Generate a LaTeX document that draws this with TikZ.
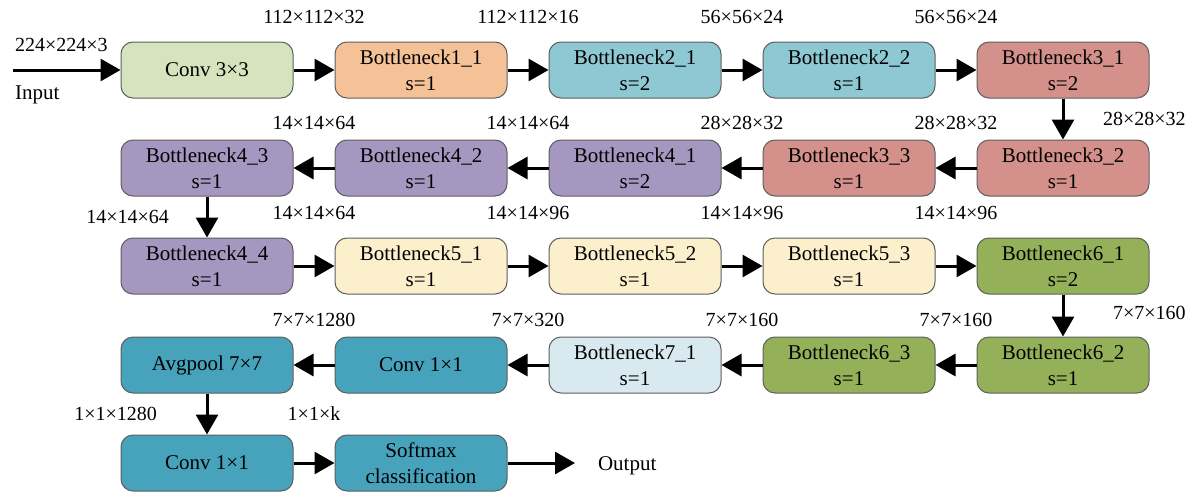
\documentclass[tikz,border=0pt]{standalone}
\usepackage{fontspec}
\setmainfont{Liberation Serif}
\usetikzlibrary{positioning,arrows.meta}
\definecolor{bordergray}{HTML}{5E5E5E}
\definecolor{convgreen}{HTML}{D6E4BD}
\definecolor{bnorange}{HTML}{F5C196}
\definecolor{bnblue}{HTML}{8DC8D3}
\definecolor{bnred}{HTML}{D4908B}
\definecolor{bnpurple}{HTML}{A597BF}
\definecolor{bncream}{HTML}{FCEFCC}
\definecolor{bngreen}{HTML}{94B15A}
\definecolor{bnpale}{HTML}{D8E9EF}
\definecolor{headteal}{HTML}{47A3BC}

\begin{document}
\begin{tikzpicture}[>={Triangle[width=11pt,length=10pt]}, every edge/.style={draw, line width=1.5pt}, block/.style={rectangle, rounded corners=6pt, draw=bordergray, line width=0.5pt, minimum width=86pt, minimum height=28pt, inner sep=1pt, align=center, font=\fontsize{10.5}{13}\selectfont}, dim/.style={font=\fontsize{10}{12}\selectfont}]
\useasboundingbox (0pt, 0pt) rectangle (600pt, -246.5pt);
\draw (6.5pt, -35pt) coordinate(in);
\draw (103.5pt, -35pt)node[block,fill=convgreen](c0){Conv 3×3};
\draw (210.5pt, -35pt)node[block,fill=bnorange](b11){Bottleneck1\_1\\s=1};
\draw (317.5pt, -35pt)node[block,fill=bnblue](b21){Bottleneck2\_1\\s=2};
\draw (424.5pt, -35pt)node[block,fill=bnblue](b22){Bottleneck2\_2\\s=1};
\draw (531.5pt, -35pt)node[block,fill=bnred](b31){Bottleneck3\_1\\s=2};
\draw (103.5pt, -84pt)node[block,fill=bnpurple](b43){Bottleneck4\_3\\s=1};
\draw (210.5pt, -84pt)node[block,fill=bnpurple](b42){Bottleneck4\_2\\s=1};
\draw (317.5pt, -84pt)node[block,fill=bnpurple](b41){Bottleneck4\_1\\s=2};
\draw (424.5pt, -84pt)node[block,fill=bnred](b33){Bottleneck3\_3\\s=1};
\draw (531.5pt, -84pt)node[block,fill=bnred](b32){Bottleneck3\_2\\s=1};
\draw (103.5pt, -133pt)node[block,fill=bnpurple](b44){Bottleneck4\_4\\s=1};
\draw (210.5pt, -133pt)node[block,fill=bncream](b51){Bottleneck5\_1\\s=1};
\draw (317.5pt, -133pt)node[block,fill=bncream](b52){Bottleneck5\_2\\s=1};
\draw (424.5pt, -133pt)node[block,fill=bncream](b53){Bottleneck5\_3\\s=1};
\draw (531.5pt, -133pt)node[block,fill=bngreen](b61){Bottleneck6\_1\\s=2};
\draw (103.5pt, -182.5pt)node[block,fill=headteal](pool){Avgpool 7×7};
\draw (210.5pt, -182.5pt)node[block,fill=headteal](c1){Conv 1×1};
\draw (317.5pt, -182.5pt)node[block,fill=bnpale](b71){Bottleneck7\_1\\s=1};
\draw (424.5pt, -182.5pt)node[block,fill=bngreen](b63){Bottleneck6\_3\\s=1};
\draw (531.5pt, -182.5pt)node[block,fill=bngreen](b62){Bottleneck6\_2\\s=1};
\draw (103.5pt, -231.5pt)node[block,fill=headteal](c2){Conv 1×1};
\draw (210.5pt, -231.5pt)node[block,fill=headteal](sm){Softmax\\classification};
\draw (287.5pt, -231.5pt) coordinate(out) node[dim,right=8pt,yshift=-1.5pt,font=\fontsize{10.5}{13}\selectfont]{Output};
\path[->] (in) edge node[dim,pos=0,anchor=south west,xshift=-3pt,yshift=5pt]{224×224×3} node[dim,pos=0,anchor=north west,xshift=-3pt,yshift=-4pt,font=\fontsize{10.5}{13}\selectfont]{Input}(c0);
\path[->] (c0) edge node[dim,above=19pt]{112×112×32}(b11);
\path[->] (b11) edge node[dim,above=19pt]{112×112×16}(b21);
\path[->] (b21) edge node[dim,above=19pt]{56×56×24}(b22);
\path[->] (b22) edge node[dim,above=19pt]{56×56×24}(b31);
\path[->] (b31) edge node[dim,right=16pt]{28×28×32}(b32);
\path[->] (b32) edge node[dim,above=15pt]{28×28×32}(b33);
\path[->] (b33) edge node[dim,above=15pt]{28×28×32}(b41);
\path[->] (b41) edge node[dim,above=15pt]{14×14×64}(b42);
\path[->] (b42) edge node[dim,above=15pt]{14×14×64}(b43);
\path[->] (b43) edge node[dim,left=15pt]{14×14×64}(b44);
\path[->] (b44) edge node[dim,above=19pt]{14×14×64}(b51);
\path[->] (b51) edge node[dim,above=19pt]{14×14×96}(b52);
\path[->] (b52) edge node[dim,above=19pt]{14×14×96}(b53);
\path[->] (b53) edge node[dim,above=19pt]{14×14×96}(b61);
\path[->] (b61) edge node[dim,right=21pt,yshift=1.5pt]{7×7×160}(b62);
\path[->] (b62) edge node[dim,above=15pt]{7×7×160}(b63);
\path[->] (b63) edge node[dim,above=15pt]{7×7×160}(b71);
\path[->] (b71) edge node[dim,above=15pt]{7×7×320}(c1);
\path[->] (c1) edge node[dim,above=15pt]{7×7×1280}(pool);
\path[->] (pool) edge node[dim,left=21pt]{1×1×1280}(c2);
\path[->] (c2) edge node[dim,above=17pt]{1×1×k}(sm);
\path[->] (sm) edge (out);
\end{tikzpicture}
\end{document}
